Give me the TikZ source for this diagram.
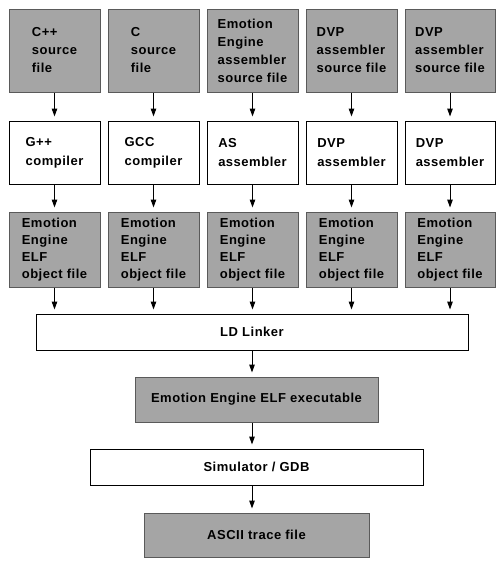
\documentclass[tikz,border=0pt]{standalone}
\usepackage{fontspec}
\setmainfont{Liberation Sans}[LetterSpace=4]
\usetikzlibrary{arrows.meta}
\definecolor{dither}{RGB}{165,165,165}
\definecolor{ditherline}{RGB}{90,90,90}
\tikzset{
  box/.style={draw=black, line width=1pt, fill=white, align=left, inner sep=0pt,
    font=\fontsize{13}{18}\selectfont\bfseries},
  filebox/.style={box, draw=ditherline, fill=dither},
  toolrow/.style={font=\fontsize{13}{19}\selectfont\bfseries},
  objrow/.style={font=\fontsize{13}{17}\selectfont\bfseries},
  arr/.style={draw=black, line width=1pt, -{Triangle[width=5.5pt,length=8pt]}, shorten >=4pt},
}
\begin{document}
\begin{tikzpicture}[x=1pt,y=-1pt]
\useasboundingbox (0,0) rectangle (503,565);
% top row: source files
\node[filebox, minimum width=91, minimum height=83] (s1) at (54.5,50.5) {C++\\source\\file};
\node[filebox, minimum width=91, minimum height=83] (s2) at (153.5,50.5) {C\\source\\file};
\node[filebox, minimum width=91, minimum height=83] (s3) at (252.5,50.5) {Emotion\\Engine\\assembler\\source file};
\node[filebox, minimum width=91, minimum height=83] (s4) at (351.5,50.5) {DVP\\assembler\\source file};
\node[filebox, minimum width=90, minimum height=83] (s5) at (450,50.5) {DVP\\assembler\\source file};
% second row: tools
\node[box, toolrow, minimum width=91, minimum height=63] (c1) at (54.5,152.5) {G++\\compiler};
\node[box, toolrow, minimum width=91, minimum height=63] (c2) at (153.5,152.5) {GCC\\compiler};
\node[box, toolrow, minimum width=91, minimum height=63] (c3) at (252.5,152.5) {AS\\assembler};
\node[box, toolrow, minimum width=91, minimum height=63] (c4) at (351.5,152.5) {DVP\\assembler};
\node[box, toolrow, minimum width=90, minimum height=63] (c5) at (450,152.5) {DVP\\assembler};
% third row: object files
\node[filebox, objrow, minimum width=91, minimum height=75] (o1) at (54.5,249.5) {Emotion\\Engine\\ELF\\object file};
\node[filebox, objrow, minimum width=91, minimum height=75] (o2) at (153.5,249.5) {Emotion\\Engine\\ELF\\object file};
\node[filebox, objrow, minimum width=91, minimum height=75] (o3) at (252.5,249.5) {Emotion\\Engine\\ELF\\object file};
\node[filebox, objrow, minimum width=91, minimum height=75] (o4) at (351.5,249.5) {Emotion\\Engine\\ELF\\object file};
\node[filebox, objrow, minimum width=90, minimum height=75] (o5) at (450,249.5) {Emotion\\Engine\\ELF\\object file};
% bottom chain
\node[box, minimum width=432, minimum height=36] (ld) at (252,332) {LD Linker};
\node[filebox, minimum width=243, minimum height=45] (exe) at (256.5,399.5) {Emotion Engine ELF executable};
\node[box, minimum width=333, minimum height=36] (sim) at (256.5,467) {Simulator / GDB};
\node[filebox, minimum width=225, minimum height=44] (trace) at (256.5,535) {ASCII trace file};
% connectors
\foreach \i in {1,...,5}{
  \draw[arr] (s\i) -- (c\i);
  \draw[arr] (c\i) -- (o\i);
  \draw[arr] (o\i.south) -- (o\i.south |- ld.north);
}
\draw[arr] (ld.south) -- (ld.south |- exe.north);
\draw[arr] (exe.south -| ld.south) -- (sim.north -| ld.south);
\draw[arr] (sim.south -| ld.south) -- (trace.north -| ld.south);
\end{tikzpicture}
\end{document}
